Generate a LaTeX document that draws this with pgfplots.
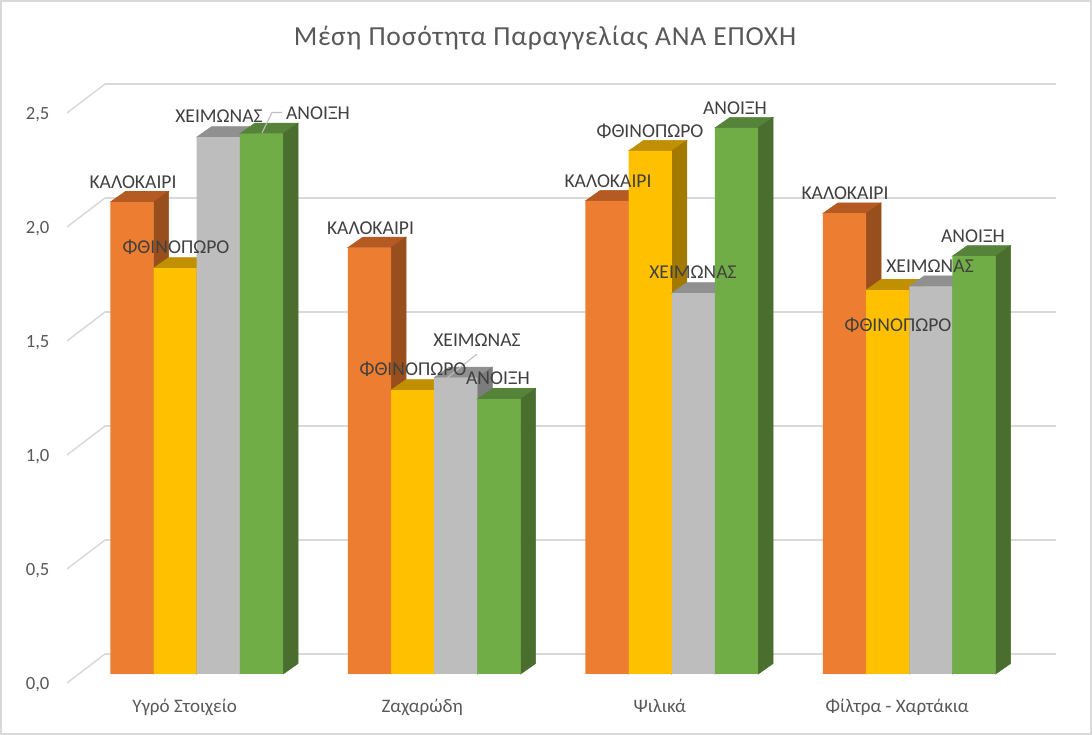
\documentclass[border=0pt]{standalone}
\usepackage{pgfplots}
\pgfplotsset{compat=1.18}
\usepackage{pgfplotstable}
\usepackage{fontspec}
\setmainfont{Carlito}

\definecolor{gridc}{HTML}{D9D9D9}
\definecolor{tickc}{HTML}{595959}
\definecolor{labc}{HTML}{404040}
\definecolor{orangeF}{HTML}{ED7D31}
\definecolor{orangeT}{HTML}{B55A22}
\definecolor{orangeS}{HTML}{984F1D}
\definecolor{goldF}{HTML}{FFC000}
\definecolor{goldT}{HTML}{C09000}
\definecolor{goldS}{HTML}{A37A00}
\definecolor{greyF}{HTML}{BDBDBD}
\definecolor{greyT}{HTML}{909090}
\definecolor{greyS}{HTML}{7C7C7C}
\definecolor{greenF}{HTML}{70AD47}
\definecolor{greenT}{HTML}{56833A}
\definecolor{greenS}{HTML}{4A6E2D}

% group  summer autumn winter spring
\pgfplotstableread{
g s a w p
0 2.07 1.78 2.355 2.37
1 1.87 1.245 1.30 1.206
2 2.075 2.294 1.67 2.395
3 2.02 1.684 1.70 1.833
}\orders

% 1px = 0.75pt; bar 43.2px wide, depth 15px x 10.5px
\def\bw{32.4pt}
\pgfplotsset{
  faces/.style n args={3}{
    scatter, only marks, mark=*, mark size=0pt, scatter src=y,
    mark options={draw=none,fill=none},
    visualization depends on={rawy \as \barv},
    scatter/@pre marker code/.code={
      \pgfmathsetlengthmacro\barh{\barv*171}
      \fill[#2] ({#1-16.2pt},0pt) -- ++(11.25pt,7.9pt) -- ++(\bw,0pt) -- ++(-11.25pt,-7.9pt) -- cycle;
      \fill[#3] ({#1+16.2pt},0pt) -- ++(11.25pt,7.9pt) -- ++(0pt,-\barh) -- ++(-11.25pt,-7.9pt) -- cycle;
      \scope
    },
    scatter/@post marker code/.code={\endscope},
  },
  front/.style n args={2}{
    ybar, bar width=\bw, bar shift=#1, fill=#2, draw=none,
  },
}

\begin{document}
\begin{tikzpicture}
\useasboundingbox (-78.75pt,-45.75pt) rectangle (740.25pt,505.5pt);
\begin{scope}[x=0.75pt,y=-0.75pt,xshift=-78.75pt,yshift=505.5pt]
  \fill[white] (0,0) rectangle (1092,735);
  \draw[gridc,line width=1.5pt] (1,1) rectangle (1091,734);
  \foreach \t in {0,...,5}
    \draw[gridc,line width=1.1pt] (67,{683-114*\t}) -- (105,{654-114*\t});
\end{scope}
\begin{axis}[
  at={(0pt,0pt)}, anchor=south west,
  scale only axis, width=713.25pt, height=427.5pt,
  clip=false, clip mode=individual,
  xmin=-0.3863, xmax=3.6179, ymin=0, ymax=2.5,
  axis line style={draw=none},
  major tick length=0pt,
  ymajorgrids,
  grid style={draw=gridc,line width=1.1pt,yshift=15pt},
  xtick={0,1,2,3},
  xticklabels={Υγρό Στοιχείο,Ζαχαρώδη,Ψιλικά,Φίλτρα - Χαρτάκια},
  x tick label style={anchor=base,inner sep=0pt,xshift=-9pt,yshift=-28.5pt,font=\fontsize{14.3}{16}\selectfont,text=tickc},
  ytick={0,0.5,1,1.5,2,2.5},
  y tick label style={anchor=east,inner sep=0pt,xshift=-41.5pt,yshift=-8.2pt,font=\fontsize{14}{16}\selectfont,text=tickc,
    /pgf/number format/.cd,fixed,fixed zerofill,precision=1,use comma,assume math mode=true},
  title={\addfontfeature{LetterSpace=3}Μέση Ποσότητα Παραγγελίας ΑΝΑ ΕΠΟΧΗ},
  title style={at={(axis description cs:0.4627,1.1025)},anchor=center,inner sep=0pt,font=\fontsize{20.66}{24}\selectfont,text=tickc},
]
\addplot[faces={-48.6pt}{orangeT}{orangeS}] table[x=g,y=s] {\orders};
\addplot[front={-48.6pt}{orangeF}] table[x=g,y=s] {\orders};
\addplot[faces={-16.2pt}{goldT}{goldS}] table[x=g,y=a] {\orders};
\addplot[front={-16.2pt}{goldF}] table[x=g,y=a] {\orders};
\addplot[faces={16.2pt}{greyT}{greyS}] table[x=g,y=w] {\orders};
\addplot[front={16.2pt}{greyF}] table[x=g,y=w] {\orders};
\addplot[faces={48.6pt}{greenT}{greenS}] table[x=g,y=p] {\orders};
\addplot[front={48.6pt}{greenF}] table[x=g,y=p] {\orders};
\end{axis}
\begin{scope}[x=0.75pt,y=-0.75pt,xshift=-78.75pt,yshift=505.5pt,
    every node/.style={text=labc,inner sep=0pt,font=\fontsize{14.7}{16}\selectfont}]
  % leader lines
  \draw[gridc!70!gray,line width=0.8pt] (262,133) -- (272,112.5) -- (282,112.5);
  \draw[gridc!70!gray,line width=0.8pt] (447,378) -- (477,354);
  \node at (133,182) {ΚΑΛΟΚΑΙΡΙ};
  \node at (176,247) {ΦΘΙΝΟΠΩΡΟ};
  \node at (219,116) {ΧΕΙΜΩΝΑΣ};
  \node at (318,113) {ΑΝΟΙΞΗ};
  \node at (370.5,228) {ΚΑΛΟΚΑΙΡΙ};
  \node at (413,369.5) {ΦΘΙΝΟΠΩΡΟ};
  \node at (477,340) {ΧΕΙΜΩΝΑΣ};
  \node at (498,378) {ΑΝΟΙΞΗ};
  \node at (608,181) {ΚΑΛΟΚΑΙΡΙ};
  \node at (650,131) {ΦΘΙΝΟΠΩΡΟ};
  \node at (693,272) {ΧΕΙΜΩΝΑΣ};
  \node at (735,108) {ΑΝΟΙΞΗ};
  \node at (845,193) {ΚΑΛΟΚΑΙΡΙ};
  \node at (898,325) {ΦΘΙΝΟΠΩΡΟ};
  \node at (930,266) {ΧΕΙΜΩΝΑΣ};
  \node at (973,236) {ΑΝΟΙΞΗ};
\end{scope}
\end{tikzpicture}
\end{document}
